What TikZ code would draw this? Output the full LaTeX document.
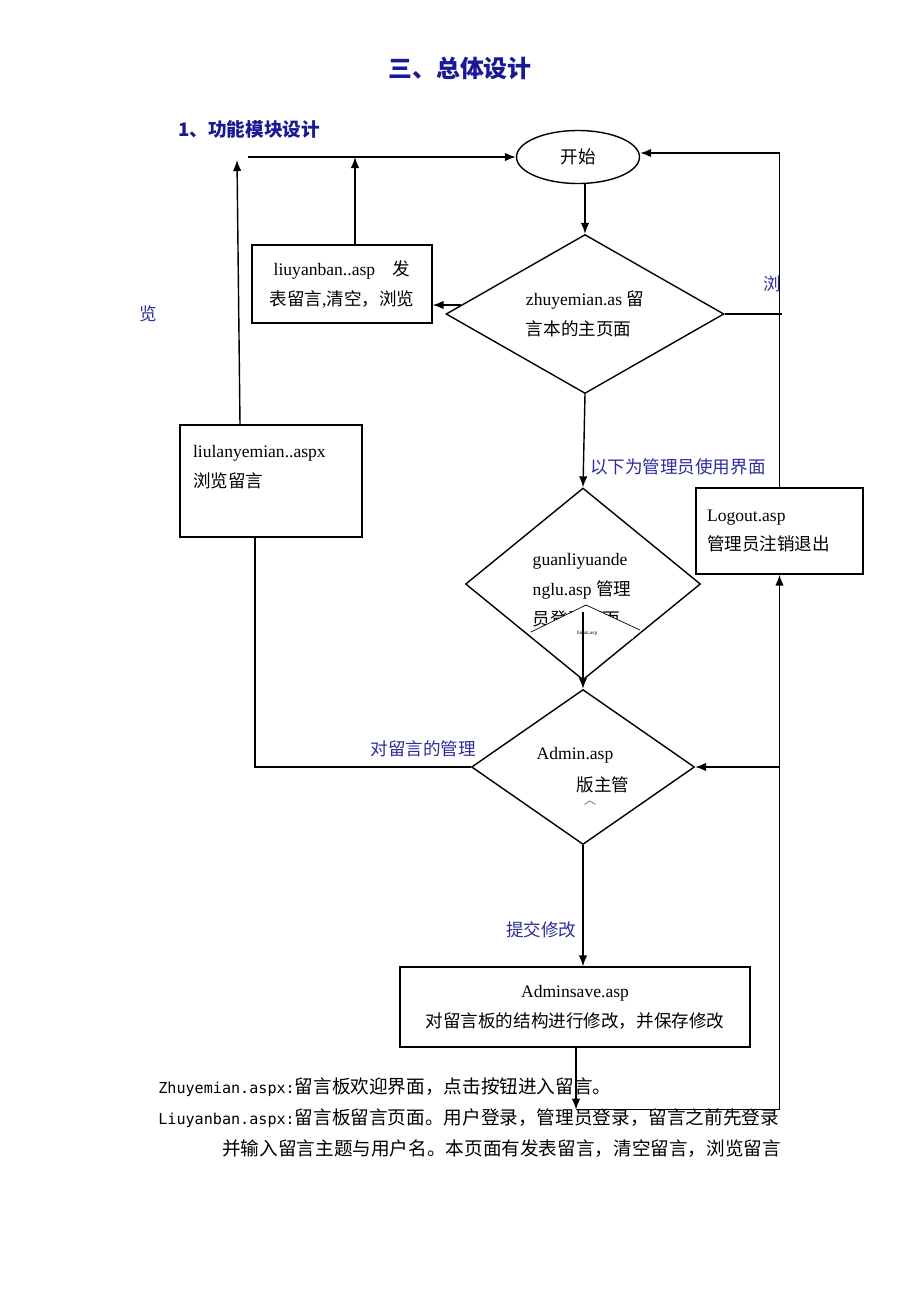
\documentclass[tikz,border=0pt]{standalone}
\usepackage{fontspec}
\setmainfont{Liberation Serif}
\newfontfamily\cjk{Noto Sans CJK SC}
\newfontfamily\footmono{DejaVu Sans Mono}
\newcommand{\cn}[1]{{\cjk #1}}
\usetikzlibrary{positioning, shapes.geometric, arrows.meta, calc}
\definecolor{labelblue}{RGB}{45,45,155}
\definecolor{titleblue}{RGB}{25,25,150}

\begin{document}
\begin{tikzpicture}[
    x=0.02cm, y=-0.02cm,
    node distance=0.8cm and 0.5cm,
    every node/.style={font=\fontsize{10}{17}\selectfont},
    box/.style={rectangle, draw=black, line width=0.8pt, align=center, inner sep=2pt},
    decision/.style={diamond, draw=black, line width=0.8pt, align=left, inner sep=0pt},
    startstop/.style={ellipse, draw=black, line width=0.8pt, minimum width=2.46cm, minimum height=1.06cm},
    note/.style={text=labelblue, font=\cjk\fontsize{10}{12}\selectfont},
    arrow/.style={-{Latex[length=2.2mm, width=1.7mm]}, line width=0.8pt},
    line/.style={line width=0.8pt}
]
\useasboundingbox (0,0) rectangle (920,1302);

% Headings
\node[text=titleblue, font=\cjk\bfseries\fontsize{13.6}{16}\selectfont] (title) at (460,68) {三、总体设计};
\node[text=titleblue, font=\cjk\bfseries\fontsize{10.6}{12}\selectfont, anchor=west] (subtitle) at (172,129) {1、功能模块设计};

% Start
\node[startstop] (start) at (578,157) {\cn{开始}};

% Main page
\node[decision, shape aspect=1.75, minimum width=5.56cm, minimum height=3.18cm] (zhuye) at (585,314) {zhuyemian.as \cn{留}\\\cn{言本的主页面}};
\node[box, minimum width=3.6cm, minimum height=1.56cm] (liuyan) at (342,284) {liuyanban..asp\quad\cn{发}\\\cn{表留言},\cn{清空，浏览}};
\node[box, minimum width=3.64cm, minimum height=2.24cm, text width=3.12cm, align=left] (liulan) at (271,481) {liulanyemian..aspx\\\cn{浏览留言}\\\mbox{}};

% Admin part
\node[decision, shape aspect=1.22, minimum width=4.7cm, minimum height=3.84cm] (guanli) at (583,584) {};
\node[align=left, inner sep=0pt] (guanlitxt) at (582,590) {guanliyuande\\nglu.asp \cn{管理}\\\cn{员登录页面}};
\node[box, minimum width=3.34cm, minimum height=1.72cm, text width=2.9cm, align=left] (logout) at (779.5,531) {Logout.asp\\\cn{管理员注销退出}};
\node[decision, shape aspect=1.44, minimum width=4.46cm, minimum height=3.1cm] (admin) at (583,767) {};
\node (admintxt) at (575,755) {Admin.asp};
\node (admintxt2) at (603,785) {\cn{版主管}};
\node[font=\cjk\fontsize{7}{8}\selectfont, text=black!60] (admintxt3) at (590,803) {︿};
\node[box, minimum width=7cm, minimum height=1.6cm] (adminsave) at (575,1007) {Adminsave.asp\\\cn{对留言板的结构进行修改，并保存修改}};

% stray marks
\node[note] (lan) at (148,314) {览};
\node[note] (liu) at (772,284) {浏};
\fill[white] (531,632) -- (586,605) -- (640,630) -- (632,639) -- (536,639) -- cycle;
\draw[line width=0.4pt] (531,632) -- (586,605) -- (640,630);
\node[font=\fontsize{3}{3}\selectfont, inner sep=0pt] (tiny) at (587,633) {liulan.asp};

% Helper points
\coordinate (topl) at (248,157);
\coordinate (lltop) at (237,160);
\coordinate (ll) at ($(liulan.north)+(-31,0)$);
\coordinate (lyt) at ($(liuyan.north)+(13,0)$);
\coordinate (zl) at ($(zhuye.west)+(16,-9)$);
\coordinate (g1) at ($(guanli)+(0,28)$);
\coordinate (lb) at ($(liulan.south)+(-16,0)$);
\coordinate (bot) at ($(adminsave.south)+(1,62)$);
\coordinate (ar) at (logout.south |- admin.east);

% Connections
\draw[arrow] (topl) -- (start.west);
\draw[arrow] (ll) -- (lltop);
\draw[arrow] (lyt) -- (lyt |- start);
\draw[arrow] (zhuye.north |- start.south) -- (zhuye.north);
\draw[arrow] (zl) -- (zl -| liuyan.east);
\draw[line] (zhuye.east) -- ++(57,0);
\draw[arrow] (logout.north) |- ($(start.east)+(0,-4)$);
\draw[arrow] (zhuye.south) -- (guanli.north) node[note, pos=0.78, right] {以下为管理员使用界面};
\draw[arrow] (g1) -- (admin.north);
\draw[line] (lb) |- (admin.west) node[note, pos=0.89, above=2pt] {对留言的管理};
\draw[arrow] (admin.south) -- (admin.south |- adminsave.north) node[note, pos=0.7, left] {提交修改};
\draw[arrow] (bot |- adminsave.south) -- (bot);
\draw[arrow] (bot) -| (logout.south);
\draw[arrow] (ar) -- (admin.east);

% Notes below
\node[anchor=west, inner sep=0pt] (foot1) at (158,1087) {\footmono\fontsize{8.6}{10}\selectfont Zhuyemian.aspx:\cjk\fontsize{10.6}{12}\selectfont 留言板欢迎界面，点击按钮进入留言。};
\node[anchor=west, inner sep=0pt] (foot2) at (158,1118) {\footmono\fontsize{8.6}{10}\selectfont Liuyanban.aspx:\cjk\fontsize{10.6}{12}\selectfont 留言板留言页面。用户登录，管理员登录，留言之前先登录};
\node[anchor=west, inner sep=0pt] (foot3) at (222,1149) {\cjk\fontsize{10.6}{12}\selectfont 并输入留言主题与用户名。本页面有发表留言，清空留言，浏览留言};

\end{tikzpicture}
\end{document}
